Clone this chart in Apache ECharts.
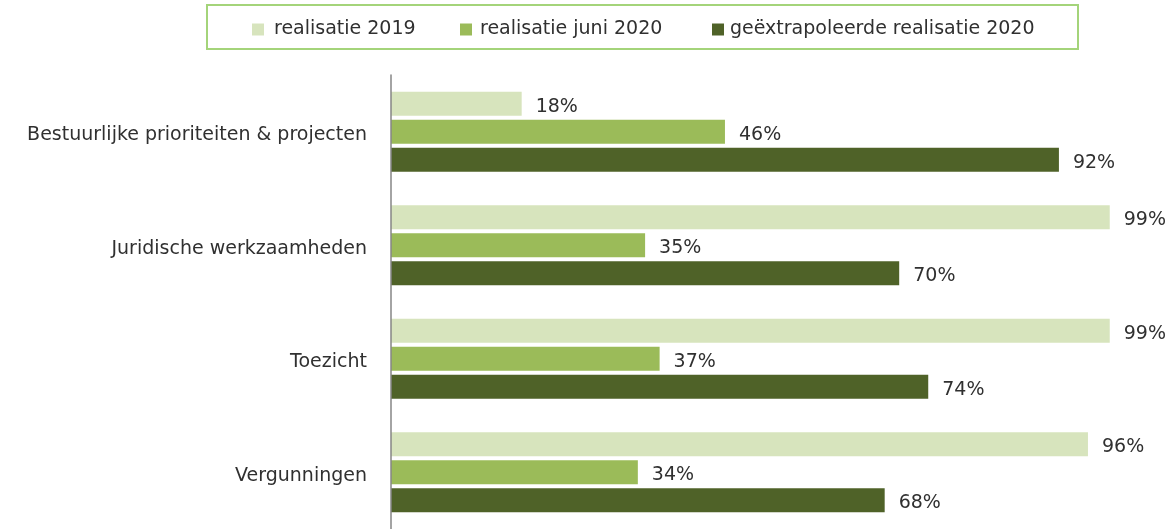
<!DOCTYPE html>
<html>
<head>
<meta charset="utf-8">
<script src="https://cdn.jsdelivr.net/npm/echarts@6/dist/echarts.min.js"></script>
<style>
  html, body { margin: 0; padding: 0; background: #ffffff; }
  #chart { width: 1175px; height: 529px; }
</style>
</head>
<body>
<div id="chart"></div>
<script>
const categories = [
  'Bestuurlijke prioriteiten & projecten',
  'Juridische werkzaamheden',
  'Toezicht',
  'Vergunningen'
];
const seriesNames = ['realisatie 2019', 'realisatie juni 2020', 'geëxtrapoleerde realisatie 2020'];
const realisatie2019 = [18, 99, 99, 96];
const realisatieJuni2020 = [46, 35, 37, 34];
const geextrapoleerd2020 = [92, 70, 74, 68];

const colors = ['#d7e4bd', '#9bbb59', '#4f6228'];
const FONT = 'DejaVu Sans';
const FS = 19;
const TXT = '#303030';

const chart = echarts.init(document.getElementById('chart'), null, { renderer: 'canvas' });

function barSeries(name, data, color) {
  return {
    name: name,
    type: 'bar',
    data: data,
    barWidth: 24,
    barGap: '17%',
    itemStyle: { color: color },
    label: {
      show: true,
      position: 'right',
      distance: 14,
      offset: [0, 3],
      formatter: '{c}%',
      color: TXT,
      fontFamily: FONT,
      fontSize: FS
    },
    animation: false
  };
}

function legendAt(left, name, textPad) {
  return {
    left: left,
    top: 20,
    data: [name],
    itemWidth: 12,
    itemHeight: 12,
    itemGap: 0,
    icon: 'rect',
    textStyle: { color: TXT, fontFamily: FONT, fontSize: FS, padding: [0, 0, 0, textPad] },
    padding: 0,
    selectedMode: false
  };
}

chart.setOption({
  animation: false,
  backgroundColor: '#ffffff',
  graphic: [{
    type: 'rect',
    shape: { x: 207, y: 5, width: 871, height: 44 },
    style: { fill: 'none', stroke: '#a4d47a', lineWidth: 2 },
    silent: true
  }],
  legend: [
    legendAt(252, seriesNames[0], 5),
    legendAt(460, seriesNames[1], 3),
    legendAt(712, seriesNames[2], 1)
  ],
  grid: { left: 391, right: 58, top: 75, height: 457, containLabel: false },
  xAxis: {
    type: 'value',
    min: 0,
    max: 100,
    show: false,
    splitLine: { show: false }
  },
  yAxis: {
    type: 'category',
    data: categories,
    inverse: true,
    z: 5,
    axisLine: { show: true, lineStyle: { color: '#868686', width: 1.5 } },
    axisTick: { show: false },
    axisLabel: {
      margin: 24,
      formatter: function (v) { return '{c|' + v + '}'; },
      rich: {
        c: {
          color: TXT,
          fontFamily: FONT,
          fontSize: FS,
          padding: [7, 0, 0, 0]
        }
      }
    }
  },
  series: [
    barSeries(seriesNames[0], realisatie2019, colors[0]),
    barSeries(seriesNames[1], realisatieJuni2020, colors[1]),
    barSeries(seriesNames[2], geextrapoleerd2020, colors[2])
  ]
});
</script>
</body>
</html>
